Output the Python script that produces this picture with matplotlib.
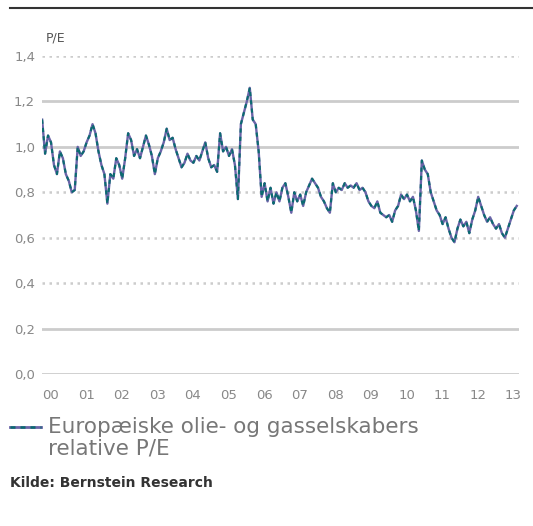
import matplotlib
matplotlib.use("Agg")
import matplotlib.pyplot as plt
from matplotlib.lines import Line2D
import numpy as np

# Relative P/E, monthly readings from Jan 2000 onwards
pe_values = [
    1.12, 0.97, 1.05, 1.02, 0.92, 0.88, 0.98, 0.95, 0.88, 0.85, 0.80, 0.81,  # 2000
    1.00, 0.96, 0.98, 1.02, 1.05, 1.10, 1.06, 0.98, 0.92, 0.88, 0.75, 0.88,  # 2001
    0.86, 0.95, 0.92, 0.86, 0.95, 1.06, 1.03, 0.96, 0.99, 0.95, 1.00, 1.05,  # 2002
    1.01, 0.96, 0.88, 0.95, 0.98, 1.02, 1.08, 1.03, 1.04, 0.99, 0.95, 0.91,  # 2003
    0.93, 0.97, 0.94, 0.93, 0.96, 0.94, 0.98, 1.02, 0.95, 0.91, 0.92, 0.89,  # 2004
    1.06, 0.98, 1.00, 0.96, 0.99, 0.92, 0.77, 1.10, 1.15, 1.20, 1.26, 1.12,  # 2005
    1.10, 0.98, 0.78, 0.84, 0.76, 0.82, 0.75, 0.80, 0.76, 0.82, 0.84, 0.78,  # 2006
    0.71, 0.80, 0.76, 0.79, 0.74, 0.80, 0.83, 0.86, 0.84, 0.82, 0.78, 0.76,  # 2007
    0.73, 0.71, 0.84, 0.80, 0.82, 0.81, 0.84, 0.82, 0.83, 0.82, 0.84, 0.81,  # 2008
    0.82, 0.80, 0.76, 0.74, 0.73, 0.76, 0.71, 0.70, 0.69, 0.70, 0.67, 0.72,  # 2009
    0.74, 0.79, 0.77, 0.79, 0.76, 0.78, 0.72, 0.63, 0.94, 0.90, 0.88, 0.80,  # 2010
    0.76, 0.72, 0.70, 0.66, 0.69, 0.64, 0.60, 0.58, 0.64, 0.68, 0.65, 0.67,  # 2011
    0.62, 0.68, 0.72, 0.78, 0.74, 0.70, 0.67, 0.69, 0.66, 0.64, 0.66, 0.62,  # 2012
    0.60, 0.64, 0.68, 0.72, 0.74,                                            # 2013
]
years = list(range(2000, 2014))
year_labels = ["00", "01", "02", "03", "04", "05", "06", "07", "08", "09",
               "10", "11", "12", "13"]
y_ticks = [0.0, 0.2, 0.4, 0.6, 0.8, 1.0, 1.2, 1.4]
y_labels = ["0,0", "0,2", "0,4", "0,6", "0,8", "1,0", "1,2", "1,4"]
solid_grid = [0.0, 0.2, 1.0, 1.2]

series_name = "Europæiske olie- og gasselskabers\nrelative P/E"
source = "Kilde: Bernstein Research"

t = 2000 + np.arange(len(pe_values)) / 12.0

fig = plt.figure(figsize=(5.33, 5.26), dpi=100)
ax = fig.add_axes([0.079, 0.289, 0.895, 0.6045])

# grid lines, drawn by hand since some are solid and some dotted
for v in y_ticks:
    if v in solid_grid:
        ax.axhline(v, color="#cccccc", lw=2.0, zorder=1)
    else:
        ax.axhline(v, color="#cccccc", lw=1.8, ls=(0, (1.0, 1.8)), zorder=1)

ax.plot(t, pe_values, color="#6a64a8", lw=1.7, zorder=3)
ax.plot(t, pe_values, color="#0b6b70", lw=1.5, ls=(0, (2, 2)), zorder=4)

ax.set_xlim(2000, 2013.4)
ax.set_ylim(0, 1.4)
for s in ax.spines.values():
    s.set_visible(False)
ax.set_yticks(y_ticks)
ax.set_yticklabels(y_labels)
ax.set_xticks(years)
ax.set_xticklabels(year_labels, ha="left")
ax.tick_params(length=0, labelsize=9.5, colors="#888888", pad=5)
ax.tick_params(axis="x", pad=11)

# P/E unit label
fig.text(0.086, 0.928, "P/E", fontsize=9, color="#555555", va="center")

# top rule
fig.add_artist(Line2D([0.019, 1.0], [0.985, 0.985], color="#333333", lw=1.5))

# legend drawn by hand
fig.add_artist(Line2D([0.019, 0.077], [0.188, 0.188], color="#6a64a8", lw=2.0))
fig.add_artist(Line2D([0.019, 0.077], [0.188, 0.188], color="#0b6b70", lw=1.8, ls=(0, (2, 2))))
fig.text(0.09, 0.207, series_name, fontsize=15.5, color="#777777", va="top",
         linespacing=1.1)

fig.text(0.019, 0.082, source, fontsize=10, fontweight="bold", color="#333333",
         va="center")

fig.savefig("out.png", dpi=100)
